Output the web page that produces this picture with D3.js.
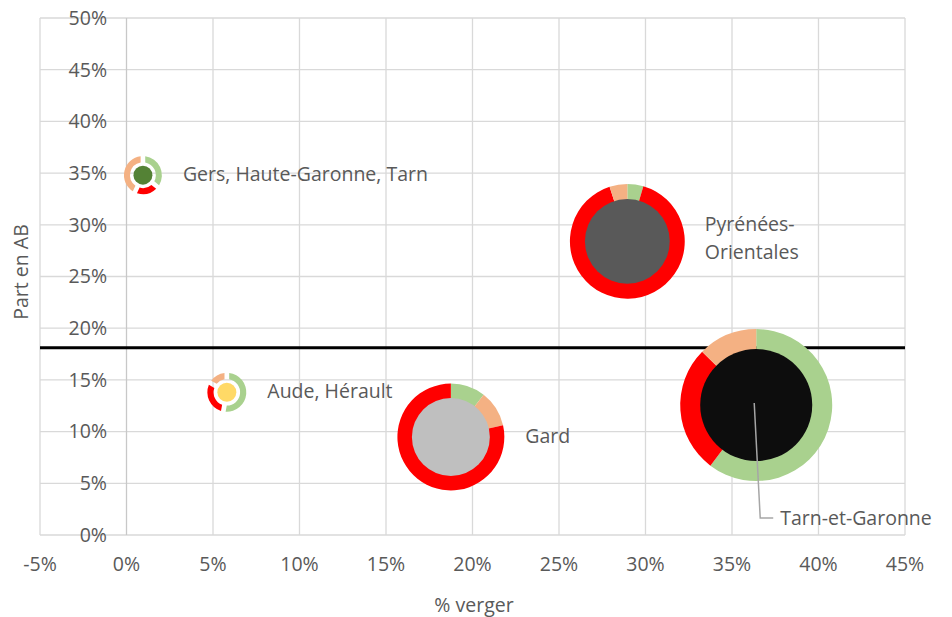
<!DOCTYPE html>
<html>
<head>
<meta charset="utf-8">
<script src="https://cdn.jsdelivr.net/npm/d3@7"></script>
<style>
  body { margin: 0; background: #fff; }
  text { font-family: "Open Sans", sans-serif; fill: #595959; }
</style>
</head>
<body>
<svg id="chart" width="952" height="617"></svg>
<script>

// departements (bubbles)
var names = ["Gers, Haute-Garonne, Tarn", "Aude, Hérault", "Gard", "Pyrénées-Orientales", "Tarn-et-Garonne"];
var pctVerger = [0.0095, 0.058, 0.1875, 0.2895, 0.364];
var partAB = [0.348, 0.138, 0.0948, 0.284, 0.1257];
// bubble sizes (outer = ring, inner = pie centre)
var outerSize = [360, 380, 2860, 3300, 5780];
var innerSize = [90, 90, 1520, 1800, 3140];
// ring shares
var ringGreen = [0.36, 0.55, 0.105, 0.045, 0.603];
var ringRed = [0.2, 0.3, 0.785, 0.905, 0.271];
var ringPeach = [0.44, 0.15, 0.11, 0.05, 0.126];
var ringOrder = [
  ["green", "red", "peach"],
  ["green", "red", "peach"],
  ["green", "peach", "red"],
  ["green", "red", "peach"],
  ["green", "red", "peach"]
];
var innerColors = ["#548235", "#ffd966", "#bfbfbf", "#595959", "#0d0d0d"];
var threshold = 0.181;

var xTicks = [-0.05, 0, 0.05, 0.1, 0.15, 0.2, 0.25, 0.3, 0.35, 0.4, 0.45];
var yTicks = [0, 0.05, 0.1, 0.15, 0.2, 0.25, 0.3, 0.35, 0.4, 0.45, 0.5];

var ringColors = {green: "#a9d18e", red: "#ff0000", peach: "#f4b183"};

var svg = d3.select("#chart");

var x = d3.scaleLinear().domain([-0.05, 0.45]).range([40, 905]);
var y = d3.scaleLinear().domain([0, 0.5]).range([535, 18]);
var r = d3.scaleSqrt().domain([0, 5780]).range([0, 76]);
var fmt = function(d){ return d3.format(".0%")(d).replace("−", "-"); };
var fs = "19.5px";

// grid
var grid = svg.append("g");
grid.selectAll("line.h").data(yTicks).enter().append("line")
  .attr("x1", x(-0.05)).attr("x2", x(0.45))
  .attr("y1", function(d){ return y(d); }).attr("y2", function(d){ return y(d); })
  .attr("stroke", "#d9d9d9").attr("stroke-width", 1.3);
grid.selectAll("line.v").data(xTicks).enter().append("line")
  .attr("y1", y(0)).attr("y2", y(0.5))
  .attr("x1", function(d){ return x(d); }).attr("x2", function(d){ return x(d); })
  .attr("stroke", function(d){ return d === 0 ? "#c8c8c8" : "#d9d9d9"; })
  .attr("stroke-width", 1.3);

// tick labels
svg.append("g").selectAll("text").data(yTicks).enter().append("text")
  .attr("x", 107).attr("y", function(d){ return y(d); })
  .attr("dy", "0.35em").attr("text-anchor", "end")
  .style("font-size", fs)
  .text(function(d){ return fmt(d); });

svg.append("g").selectAll("text").data(xTicks).enter().append("text")
  .attr("x", function(d){ return x(d); }).attr("y", 564)
  .attr("dy", "0.35em").attr("text-anchor", "middle")
  .style("font-size", fs)
  .text(function(d){ return fmt(d); });

// axis titles
svg.append("text").attr("x", 474).attr("y", 605).attr("dy", "0.35em")
  .attr("text-anchor", "middle").style("font-size", fs).text("% verger");
svg.append("text").attr("transform", "translate(21,272) rotate(-90)")
  .attr("dy", "0.35em").attr("text-anchor", "middle")
  .style("font-size", fs).text("Part en AB");

// threshold line
svg.append("line")
  .attr("x1", x(-0.05)).attr("x2", x(0.45))
  .attr("y1", y(threshold)).attr("y2", y(threshold))
  .attr("stroke", "#000").attr("stroke-width", 3);

// bubbles
var pie = d3.pie().sort(null).value(function(d){ return d.v; });

names.forEach(function(name, i){
  var cx = x(pctVerger[i]);
  var cy = y(partAB[i]);
  var ro = r(outerSize[i]);
  var ri = r(innerSize[i]);
  var g = svg.append("g").attr("transform", "translate(" + cx + "," + cy + ")");

  var shares = {green: ringGreen[i], red: ringRed[i], peach: ringPeach[i]};
  var slices = ringOrder[i].map(function(k){ return {k: k, v: shares[k]}; });
  var arc = d3.arc().outerRadius(ro).innerRadius(ro * 0.68);
  pie.padAngle(ro < 30 ? 0.2 : 0);

  g.selectAll("path").data(pie(slices)).enter().append("path")
    .attr("d", arc)
    .attr("fill", function(d){ return ringColors[d.data.k]; });

  g.append("circle").attr("r", ri).attr("fill", innerColors[i]);
});

// labels
var lbl = svg.append("g").style("font-size", fs);
[0, 1, 2].forEach(function(i){
  lbl.append("text")
    .attr("x", x(pctVerger[i]) + r(outerSize[i]) + 21)
    .attr("y", y(partAB[i]) - 1).attr("dy", "0.35em")
    .text(names[i]);
});
var pyr = names[3].split("-");
var pyrX = x(pctVerger[3]) + r(outerSize[3]) + 20;
var pyrText = lbl.append("text")
  .attr("x", pyrX)
  .attr("y", y(partAB[3]) - 17).attr("dy", "0.35em");
pyrText.append("tspan").text(pyr[0] + "-");
pyrText.append("tspan").attr("x", pyrX).attr("dy", "28").text(pyr[1]);

// Tarn-et-Garonne leader
var tx = x(pctVerger[4]), ty = y(partAB[4]);
svg.append("polyline")
  .attr("points", [[tx - 2, ty - 2], [tx + 4, 518], [tx + 17, 518]].join(" "))
  .attr("fill", "none").attr("stroke", "#a6a6a6").attr("stroke-width", 1.5);
lbl.append("text").attr("x", tx + 24).attr("y", 518).attr("dy", "0.35em").text(names[4]);

</script>
</body>
</html>
